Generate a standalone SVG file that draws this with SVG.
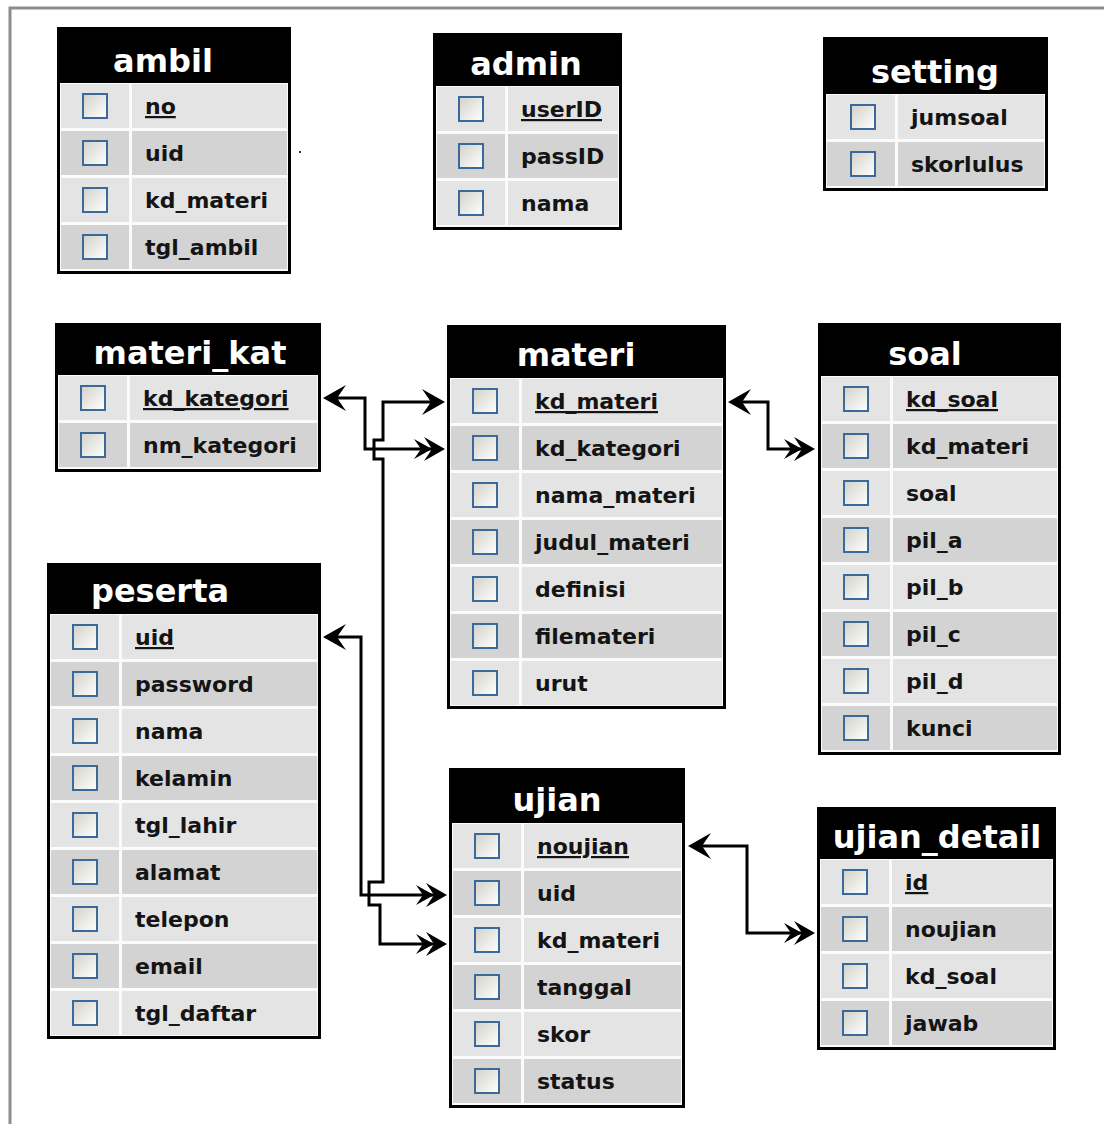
<svg xmlns="http://www.w3.org/2000/svg" xmlns:xlink="http://www.w3.org/1999/xlink" width="1104" height="1124" viewBox="0 0 1104 1124">
<style>
.frame{fill:#000}
.body{fill:#fbfbfb}
.l{fill:#e4e4e4}
.d{fill:#d3d3d3}
.cb{fill:url(#cbg);stroke:#3b6a9a;stroke-width:2}
.f{font-family:"DejaVu Sans","Liberation Sans",sans-serif;font-weight:bold;font-size:22px;fill:#141414}
.pk{text-decoration:underline}
.t{font-family:"DejaVu Sans","Liberation Sans",sans-serif;font-weight:bold;font-size:32px;fill:#fff;text-anchor:middle}
.c{fill:none;stroke:#000;stroke-width:3;stroke-linejoin:miter;marker-start:url(#one);marker-end:url(#many)}
.pg{fill:none;stroke:#8c8c8c;stroke-width:3}
</style>
<defs>
<linearGradient id="cbg" x1="0" y1="0" x2="1" y2="1">
<stop offset="0" stop-color="#d2d2c8"/>
<stop offset="1" stop-color="#ffffff"/>
</linearGradient>
<marker id="one" markerUnits="userSpaceOnUse" markerWidth="40" markerHeight="30" viewBox="0 0 40 30" refX="24" refY="15" orient="auto-start-reverse" overflow="visible">
<path d="M30,15 L7,2 L16,15 L7,28 Z" fill="#000"/>
</marker>
<marker id="many" markerUnits="userSpaceOnUse" markerWidth="40" markerHeight="30" viewBox="0 0 40 30" refX="30" refY="15" orient="auto" overflow="visible">
<path d="M36,15 L15,3 L23,15 L15,27 Z M23,15 L5,5 L12,15 L5,25 Z" fill="#000"/>
</marker>
</defs>
<rect width="1104" height="1124" fill="#fff"/>
<path class="pg" d="M10,1124 V8 H1104"/>
<rect x="299" y="151" width="2" height="2" fill="#333"/>

<g id="ambil">
<rect class="frame" x="57" y="27" width="234" height="247"/>
<rect class="body" x="60" y="83" width="228" height="188"/>
<text class="t" x="163" y="72">ambil</text>
<rect class="l" x="61" y="84" width="68" height="44"/><rect class="l" x="132" y="84" width="155" height="44"/><rect class="cb" x="83" y="94" width="24" height="24"/><text class="f pk" x="145" y="114">no</text>
<rect class="d" x="61" y="131" width="68" height="44"/><rect class="d" x="132" y="131" width="155" height="44"/><rect class="cb" x="83" y="141" width="24" height="24"/><text class="f" x="145" y="161">uid</text>
<rect class="l" x="61" y="178" width="68" height="44"/><rect class="l" x="132" y="178" width="155" height="44"/><rect class="cb" x="83" y="188" width="24" height="24"/><text class="f" x="145" y="208">kd_materi</text>
<rect class="d" x="61" y="225" width="68" height="44"/><rect class="d" x="132" y="225" width="155" height="44"/><rect class="cb" x="83" y="235" width="24" height="24"/><text class="f" x="145" y="255">tgl_ambil</text>
</g>

<g id="admin">
<rect class="frame" x="433" y="33" width="189" height="197"/>
<rect class="body" x="436" y="86" width="183" height="141"/>
<text class="t" x="526" y="75">admin</text>
<rect class="l" x="437" y="87" width="68" height="44"/><rect class="l" x="508" y="87" width="110" height="44"/><rect class="cb" x="459" y="97" width="24" height="24"/><text class="f pk" x="521" y="117">userID</text>
<rect class="d" x="437" y="134" width="68" height="44"/><rect class="d" x="508" y="134" width="110" height="44"/><rect class="cb" x="459" y="144" width="24" height="24"/><text class="f" x="521" y="164">passID</text>
<rect class="l" x="437" y="181" width="68" height="44"/><rect class="l" x="508" y="181" width="110" height="44"/><rect class="cb" x="459" y="191" width="24" height="24"/><text class="f" x="521" y="211">nama</text>
</g>

<g id="setting">
<rect class="frame" x="823" y="37" width="225" height="154"/>
<rect class="body" x="826" y="94" width="219" height="94"/>
<text class="t" x="935" y="83">setting</text>
<rect class="l" x="827" y="95" width="68" height="44"/><rect class="l" x="898" y="95" width="146" height="44"/><rect class="cb" x="851" y="105" width="24" height="24"/><text class="f" x="911" y="125">jumsoal</text>
<rect class="d" x="827" y="142" width="68" height="44"/><rect class="d" x="898" y="142" width="146" height="44"/><rect class="cb" x="851" y="152" width="24" height="24"/><text class="f" x="911" y="172">skorlulus</text>
</g>

<g id="materi_kat">
<rect class="frame" x="55" y="323" width="266" height="149"/>
<rect class="body" x="58" y="375" width="260" height="94"/>
<text class="t" x="190" y="364">materi_kat</text>
<rect class="l" x="59" y="376" width="68" height="44"/><rect class="l" x="130" y="376" width="187" height="44"/><rect class="cb" x="81" y="386" width="24" height="24"/><text class="f pk" x="143" y="406">kd_kategori</text>
<rect class="d" x="59" y="423" width="68" height="44"/><rect class="d" x="130" y="423" width="187" height="44"/><rect class="cb" x="81" y="433" width="24" height="24"/><text class="f" x="143" y="453">nm_kategori</text>
</g>

<g id="materi">
<rect class="frame" x="447" y="325" width="279" height="384"/>
<rect class="body" x="450" y="378" width="273" height="328"/>
<text class="t" x="576" y="366">materi</text>
<rect class="l" x="451" y="379" width="68" height="44"/><rect class="l" x="522" y="379" width="200" height="44"/><rect class="cb" x="473" y="389" width="24" height="24"/><text class="f pk" x="535" y="409">kd_materi</text>
<rect class="d" x="451" y="426" width="68" height="44"/><rect class="d" x="522" y="426" width="200" height="44"/><rect class="cb" x="473" y="436" width="24" height="24"/><text class="f" x="535" y="456">kd_kategori</text>
<rect class="l" x="451" y="473" width="68" height="44"/><rect class="l" x="522" y="473" width="200" height="44"/><rect class="cb" x="473" y="483" width="24" height="24"/><text class="f" x="535" y="503">nama_materi</text>
<rect class="d" x="451" y="520" width="68" height="44"/><rect class="d" x="522" y="520" width="200" height="44"/><rect class="cb" x="473" y="530" width="24" height="24"/><text class="f" x="535" y="550">judul_materi</text>
<rect class="l" x="451" y="567" width="68" height="44"/><rect class="l" x="522" y="567" width="200" height="44"/><rect class="cb" x="473" y="577" width="24" height="24"/><text class="f" x="535" y="597">definisi</text>
<rect class="d" x="451" y="614" width="68" height="44"/><rect class="d" x="522" y="614" width="200" height="44"/><rect class="cb" x="473" y="624" width="24" height="24"/><text class="f" x="535" y="644">filemateri</text>
<rect class="l" x="451" y="661" width="68" height="44"/><rect class="l" x="522" y="661" width="200" height="44"/><rect class="cb" x="473" y="671" width="24" height="24"/><text class="f" x="535" y="691">urut</text>
</g>

<g id="soal">
<rect class="frame" x="818" y="323" width="243" height="432"/>
<rect class="body" x="821" y="376" width="237" height="376"/>
<text class="t" x="925" y="365">soal</text>
<rect class="l" x="822" y="377" width="68" height="44"/><rect class="l" x="893" y="377" width="164" height="44"/><rect class="cb" x="844" y="387" width="24" height="24"/><text class="f pk" x="906" y="407">kd_soal</text>
<rect class="d" x="822" y="424" width="68" height="44"/><rect class="d" x="893" y="424" width="164" height="44"/><rect class="cb" x="844" y="434" width="24" height="24"/><text class="f" x="906" y="454">kd_materi</text>
<rect class="l" x="822" y="471" width="68" height="44"/><rect class="l" x="893" y="471" width="164" height="44"/><rect class="cb" x="844" y="481" width="24" height="24"/><text class="f" x="906" y="501">soal</text>
<rect class="d" x="822" y="518" width="68" height="44"/><rect class="d" x="893" y="518" width="164" height="44"/><rect class="cb" x="844" y="528" width="24" height="24"/><text class="f" x="906" y="548">pil_a</text>
<rect class="l" x="822" y="565" width="68" height="44"/><rect class="l" x="893" y="565" width="164" height="44"/><rect class="cb" x="844" y="575" width="24" height="24"/><text class="f" x="906" y="595">pil_b</text>
<rect class="d" x="822" y="612" width="68" height="44"/><rect class="d" x="893" y="612" width="164" height="44"/><rect class="cb" x="844" y="622" width="24" height="24"/><text class="f" x="906" y="642">pil_c</text>
<rect class="l" x="822" y="659" width="68" height="44"/><rect class="l" x="893" y="659" width="164" height="44"/><rect class="cb" x="844" y="669" width="24" height="24"/><text class="f" x="906" y="689">pil_d</text>
<rect class="d" x="822" y="706" width="68" height="44"/><rect class="d" x="893" y="706" width="164" height="44"/><rect class="cb" x="844" y="716" width="24" height="24"/><text class="f" x="906" y="736">kunci</text>
</g>

<g id="peserta">
<rect class="frame" x="47" y="563" width="274" height="476"/>
<rect class="body" x="50" y="614" width="268" height="422"/>
<text class="t" x="160" y="602">peserta</text>
<rect class="l" x="51" y="615" width="68" height="44"/><rect class="l" x="122" y="615" width="195" height="44"/><rect class="cb" x="73" y="625" width="24" height="24"/><text class="f pk" x="135" y="645">uid</text>
<rect class="d" x="51" y="662" width="68" height="44"/><rect class="d" x="122" y="662" width="195" height="44"/><rect class="cb" x="73" y="672" width="24" height="24"/><text class="f" x="135" y="692">password</text>
<rect class="l" x="51" y="709" width="68" height="44"/><rect class="l" x="122" y="709" width="195" height="44"/><rect class="cb" x="73" y="719" width="24" height="24"/><text class="f" x="135" y="739">nama</text>
<rect class="d" x="51" y="756" width="68" height="44"/><rect class="d" x="122" y="756" width="195" height="44"/><rect class="cb" x="73" y="766" width="24" height="24"/><text class="f" x="135" y="786">kelamin</text>
<rect class="l" x="51" y="803" width="68" height="44"/><rect class="l" x="122" y="803" width="195" height="44"/><rect class="cb" x="73" y="813" width="24" height="24"/><text class="f" x="135" y="833">tgl_lahir</text>
<rect class="d" x="51" y="850" width="68" height="44"/><rect class="d" x="122" y="850" width="195" height="44"/><rect class="cb" x="73" y="860" width="24" height="24"/><text class="f" x="135" y="880">alamat</text>
<rect class="l" x="51" y="897" width="68" height="44"/><rect class="l" x="122" y="897" width="195" height="44"/><rect class="cb" x="73" y="907" width="24" height="24"/><text class="f" x="135" y="927">telepon</text>
<rect class="d" x="51" y="944" width="68" height="44"/><rect class="d" x="122" y="944" width="195" height="44"/><rect class="cb" x="73" y="954" width="24" height="24"/><text class="f" x="135" y="974">email</text>
<rect class="l" x="51" y="991" width="68" height="44"/><rect class="l" x="122" y="991" width="195" height="44"/><rect class="cb" x="73" y="1001" width="24" height="24"/><text class="f" x="135" y="1021">tgl_daftar</text>
</g>

<g id="ujian">
<rect class="frame" x="449" y="768" width="236" height="340"/>
<rect class="body" x="452" y="823" width="230" height="282"/>
<text class="t" x="557" y="811">ujian</text>
<rect class="l" x="453" y="824" width="68" height="44"/><rect class="l" x="524" y="824" width="157" height="44"/><rect class="cb" x="475" y="834" width="24" height="24"/><text class="f pk" x="537" y="854">noujian</text>
<rect class="d" x="453" y="871" width="68" height="44"/><rect class="d" x="524" y="871" width="157" height="44"/><rect class="cb" x="475" y="881" width="24" height="24"/><text class="f" x="537" y="901">uid</text>
<rect class="l" x="453" y="918" width="68" height="44"/><rect class="l" x="524" y="918" width="157" height="44"/><rect class="cb" x="475" y="928" width="24" height="24"/><text class="f" x="537" y="948">kd_materi</text>
<rect class="d" x="453" y="965" width="68" height="44"/><rect class="d" x="524" y="965" width="157" height="44"/><rect class="cb" x="475" y="975" width="24" height="24"/><text class="f" x="537" y="995">tanggal</text>
<rect class="l" x="453" y="1012" width="68" height="44"/><rect class="l" x="524" y="1012" width="157" height="44"/><rect class="cb" x="475" y="1022" width="24" height="24"/><text class="f" x="537" y="1042">skor</text>
<rect class="d" x="453" y="1059" width="68" height="44"/><rect class="d" x="524" y="1059" width="157" height="44"/><rect class="cb" x="475" y="1069" width="24" height="24"/><text class="f" x="537" y="1089">status</text>
</g>

<g id="ujian_detail">
<rect class="frame" x="817" y="807" width="239" height="243"/>
<rect class="body" x="820" y="859" width="233" height="188"/>
<text class="t" x="937" y="848">ujian_detail</text>
<rect class="l" x="821" y="860" width="68" height="44"/><rect class="l" x="892" y="860" width="160" height="44"/><rect class="cb" x="843" y="870" width="24" height="24"/><text class="f pk" x="905" y="890">id</text>
<rect class="d" x="821" y="907" width="68" height="44"/><rect class="d" x="892" y="907" width="160" height="44"/><rect class="cb" x="843" y="917" width="24" height="24"/><text class="f" x="905" y="937">noujian</text>
<rect class="l" x="821" y="954" width="68" height="44"/><rect class="l" x="892" y="954" width="160" height="44"/><rect class="cb" x="843" y="964" width="24" height="24"/><text class="f" x="905" y="984">kd_soal</text>
<rect class="d" x="821" y="1001" width="68" height="44"/><rect class="d" x="892" y="1001" width="160" height="44"/><rect class="cb" x="843" y="1011" width="24" height="24"/><text class="f" x="905" y="1031">jawab</text>
</g>

<g id="connectors">
<path class="c" d="M329,398 H365 V449 H439"/>
<path class="c" d="M439,402 H383 V440 H374 V459 H383 V882 H369 V905 H380 V944 H441"/>
<path class="c" d="M329,637 H361 V895 H441"/>
<path class="c" d="M734,402 H768 V449 H809"/>
<path class="c" d="M694,846 H747 V933 H809"/>
</g>
</svg>
